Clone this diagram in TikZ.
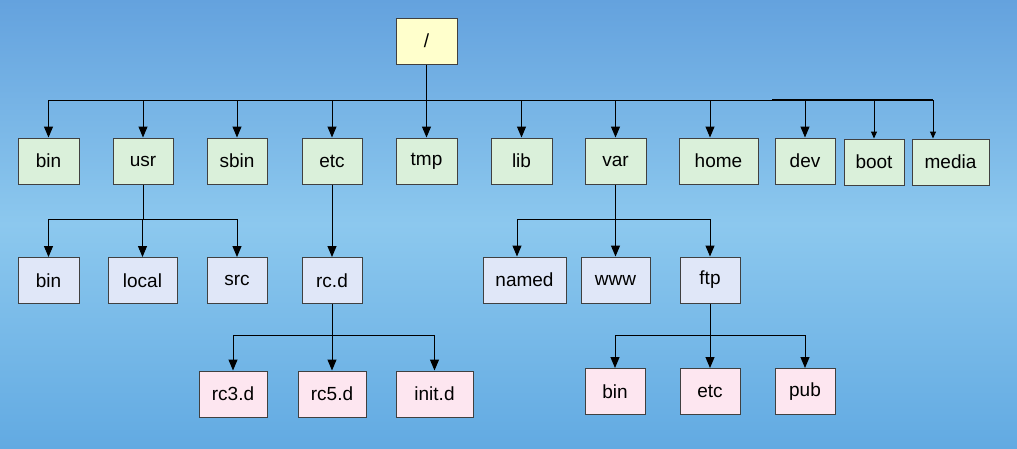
\documentclass[tikz,border=0pt]{standalone}
\usepackage{fontspec}
\setmainfont{Liberation Sans}
\usetikzlibrary{arrows.meta}

\definecolor{bgtop}{RGB}{100,162,222}
\definecolor{bgmid}{RGB}{140,200,238}
\definecolor{bgbot}{RGB}{98,170,226}
\definecolor{rootfill}{RGB}{255,255,204}
\definecolor{topfill}{RGB}{218,240,218}
\definecolor{midfill}{RGB}{224,231,248}
\definecolor{lowfill}{RGB}{253,230,240}
\definecolor{boxline}{RGB}{64,64,64}

\begin{document}
\begin{tikzpicture}[x=1pt,y=-1pt,line width=1pt,
  dirbox/.style={draw=boxline,line width=1pt,minimum height=46pt,inner sep=0pt,font=\fontsize{19}{21}\selectfont},
  rootbox/.style={dirbox,fill=rootfill,minimum width=61pt},
  topbox/.style={dirbox,fill=topfill},
  midbox/.style={dirbox,fill=midfill},
  lowbox/.style={dirbox,fill=lowfill},
  arr/.style={-{Triangle[length=11pt,width=9pt]}},
  smallarr/.style={-{Triangle[length=7pt,width=6pt]}}]

\shade[top color=bgtop,bottom color=bgbot,middle color=bgmid] (0,0) rectangle (1017,448);
\useasboundingbox (0,0) rectangle (1017,448);

\node[rootbox] (root) at (426.5,41) {/};

\node[topbox,minimum width=61pt] (bin) at (48.5,161) {bin};
\node[topbox,minimum width=60pt] (usr) at (143,161) {usr};
\node[topbox,minimum width=60pt] (sbin) at (237,161) {sbin};
\node[topbox,minimum width=60pt] (etc) at (332,161) {etc};
\node[topbox,minimum width=61pt] (tmp) at (426.5,161) {tmp};
\node[topbox,minimum width=61pt] (lib) at (521.5,161) {lib};
\node[topbox,minimum width=61pt] (var) at (615.5,161) {var};
\node[topbox,minimum width=79pt] (home) at (718.5,161) {home};
\node[topbox,minimum width=60pt] (dev) at (805,161) {dev};
\node[topbox,minimum width=60pt] (boot) at (874,162) {boot};
\node[topbox,minimum width=77pt] (media) at (950.5,162) {media};

\node[midbox,minimum width=61pt] (ubin) at (48.5,280.5) {bin};
\node[midbox,minimum width=69pt] (local) at (142.5,280.5) {local};
\node[midbox,minimum width=60pt] (src) at (237,280.5) {src};
\node[midbox,minimum width=60pt] (rcd) at (332,280.5) {rc.d};
\node[midbox,minimum width=83pt] (named) at (524.5,280) {named};
\node[midbox,minimum width=69pt] (www) at (615.5,280) {www};
\node[midbox,minimum width=60pt] (ftp) at (710,280) {ftp};

\node[lowbox,minimum width=68pt] (rcthree) at (233,394) {rc3.d};
\node[lowbox,minimum width=68pt] (rcfive) at (332,394) {rc5.d};
\node[lowbox,minimum width=77pt] (initd) at (434.5,394) {init.d};
\node[lowbox,minimum width=60pt] (fbin) at (615,391.5) {bin};
\node[lowbox,minimum width=60pt] (fetc) at (710,391.5) {etc};
\node[lowbox,minimum width=60pt] (pub) at (805,391.5) {pub};

\coordinate (rootbus) at (0,100);
\coordinate (usrbus) at (0,219);
\coordinate (rcbus) at (0,335);
\coordinate (homedrop) at (710,0);
\coordinate (mediadrop) at (933,0);
\coordinate (nameddrop) at (517,0);

\draw[arr] (root.south) -- (tmp.north);
\draw (bin |- rootbus) -- (mediadrop |- rootbus);
\draw[line width=2pt] (772,100) -- (mediadrop |- rootbus);
\foreach \d in {bin,usr,sbin,etc,lib,var,dev}
  \draw[arr] (\d |- rootbus) -- (\d.north);
\draw[arr] (homedrop |- rootbus) -- (homedrop |- home.north);
\draw[smallarr] (boot |- rootbus) -- (boot.north);
\draw[smallarr] (mediadrop |- rootbus) -- (mediadrop |- media.north);

\draw (usr.south) -- (usr |- usrbus);
\draw (ubin |- usrbus) -- (src |- usrbus);
\foreach \d in {ubin,local,src}
  \draw[arr] (\d |- usrbus) -- (\d.north);

\draw[arr] (etc.south) -- (rcd.north);

\draw (var.south) -- (var |- usrbus);
\draw (nameddrop |- usrbus) -- (ftp |- usrbus);
\draw[arr] (nameddrop |- usrbus) -- (nameddrop |- named.north);
\draw[arr] (www |- usrbus) -- (www.north);
\draw[arr] (ftp |- usrbus) -- (ftp.north);

\draw (rcd.south) -- (rcd |- rcbus);
\draw (rcthree |- rcbus) -- (initd |- rcbus);
\foreach \d in {rcthree,rcfive,initd}
  \draw[arr] (\d |- rcbus) -- (\d.north);

\draw (ftp.south) -- (ftp |- rcbus);
\draw (fbin |- rcbus) -- (pub |- rcbus);
\foreach \d in {fbin,fetc,pub}
  \draw[arr] (\d |- rcbus) -- (\d.north);

\end{tikzpicture}
\end{document}
